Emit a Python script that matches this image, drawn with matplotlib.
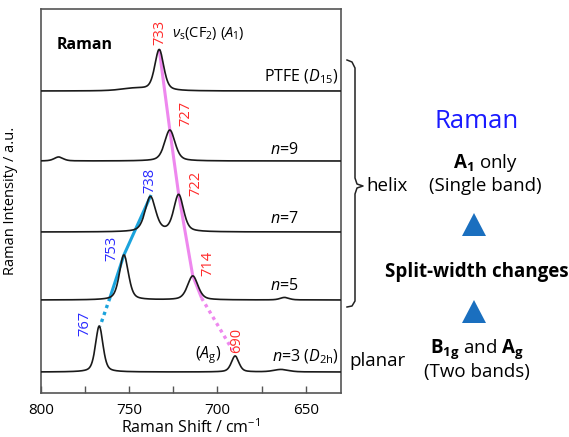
import numpy as np
import matplotlib
matplotlib.use("Agg")
import matplotlib.pyplot as plt
from matplotlib.patches import Polygon
from matplotlib.lines import Line2D

plt.rcParams['font.family'] = ['Open Sans', 'DejaVu Sans']
plt.rcParams['mathtext.fontset'] = 'custom'
plt.rcParams['mathtext.rm'] = 'Open Sans'
plt.rcParams['mathtext.it'] = 'Open Sans:italic'
plt.rcParams['mathtext.bf'] = 'Open Sans:bold'

# ---------------- data ----------------
spectra_names = ["PTFE", "n9", "n7", "n5", "n3"]
offsets = [302, 232, 161, 93, 21]
# peaks: (center cm-1, height, FWHM)
peaks_ptfe = [(733, 41, 6.0), (747, 2.5, 18)]
peaks_n9 = [(727, 31, 7.0), (790, 4, 6)]
peaks_n7 = [(738, 35, 7.0), (722, 37, 6.5)]
peaks_n5 = [(753, 45, 6.0), (714, 24, 7.0), (662, 2.5, 6)]
peaks_n3 = [(767, 46, 5.0), (690, 16, 5.0), (664, 2.5, 10)]
all_peaks = [peaks_ptfe, peaks_n9, peaks_n7, peaks_n5, peaks_n3]

red_pos = [733, 727, 722, 714, 690]
blue_pos = [738, 753, 767]

red_labels = ["733", "727", "722", "714", "690"]
blue_labels = ["738", "753", "767"]

xticks = [800, 750, 700, 650]
minor_xticks = [775, 725, 675]

# ---------------- figure ----------------
W, H = 569, 437
fig = plt.figure(figsize=(W / 100, H / 100), dpi=100)
ax = fig.add_axes([41 / W, 1 - 393 / H, 300 / W, 384 / H])
ax.set_xlim(800, 630)
ax.set_ylim(0, 384)

x = np.arange(630, 800.01, 0.25)


def pv(xx, c, h, w, eta=0.45):
    g = np.exp(-4 * np.log(2) * ((xx - c) / w) ** 2)
    l = 1 / (1 + 4 * ((xx - c) / w) ** 2)
    return h * (eta * l + (1 - eta) * g)


for off, pk in zip(offsets, all_peaks):
    y = np.full_like(x, float(off))
    for c, h, w in pk:
        y = y + pv(x, c, h, w)
    ax.plot(x, y, color="#1a1a1a", lw=1.2, zorder=3)


def apex(i, c):
    return offsets[i] + sum(pv(np.array([c]), cc, h, w)[0] for cc, h, w in all_peaks[i])


pink = "#ee88ee"
cyan = "#1ba3dc"
rp = [(733, apex(0, 733)), (727, apex(1, 727)), (722, apex(2, 722)), (714, apex(3, 714))]
ext = (709, offsets[3] + 2)
ax.plot([p[0] for p in rp] + [ext[0]], [p[1] for p in rp] + [ext[1]], color=pink, lw=2.2, zorder=2,
        solid_capstyle="butt")
ax.plot([ext[0], 691.5], [ext[1], apex(4, 690) + 6], color=pink, lw=2.4, ls=(0, (1, 1.2)), zorder=2)
bp = [(738, apex(2, 738)), (753, apex(3, 753))]
bext = (761, offsets[3] + 2)
ax.plot([bp[0][0], bp[1][0], bext[0]], [bp[0][1], bp[1][1], bext[1]], color=cyan, lw=2.2, zorder=2)
ax.plot([bext[0], 766.5], [bext[1], apex(4, 767)], color=cyan, lw=2.4, ls=(0, (1, 1.2)), zorder=2)

red = "#ff2a2a"
blue = "#2b2bff"
fs_num = 10.5
red_xy = [(732.5, 361), (718, 280), (712.3, 210), (705.5, 130), (689, 53)]
blue_xy = [(738.3, 213), (759.8, 145), (775, 70)]
for (xx, yy), t in zip(red_xy, red_labels):
    ax.text(xx, yy, t, rotation=90, color=red, fontsize=fs_num, ha="center", va="center")
for (xx, yy), t in zip(blue_xy, blue_labels):
    ax.text(xx, yy, t, rotation=90, color=blue, fontsize=fs_num, ha="center", va="center")

fs = 11.5
ax.text(791, 348, "Raman", fontsize=11.5, fontweight="bold", ha="left", va="center")
ax.text(726, 360, r"$\nu_\mathrm{s}$(CF$_2$) ($\mathit{A}_1$)", fontsize=10.5, ha="left", va="center")
ax.text(631.3, 316, r"PTFE ($\mathit{D}_{15}$)", fontsize=fs, ha="right", va="center")
ax.text(662, 243, r"$\mathit{n}$=9", fontsize=fs, ha="center", va="center")
ax.text(662, 174, r"$\mathit{n}$=7", fontsize=fs, ha="center", va="center")
ax.text(662, 107, r"$\mathit{n}$=5", fontsize=fs, ha="center", va="center")
ax.text(631.3, 36, r"$\mathit{n}$=3 ($\mathit{D}_\mathrm{2h}$)", fontsize=fs, ha="right", va="center")
ax.text(705.5, 38, r"($\mathit{A}_\mathrm{g}$)", fontsize=fs, ha="center", va="center")

ax.set_xticks(xticks)
ax.set_xticks(minor_xticks, minor=True)
ax.set_yticks([])
ax.tick_params(axis="x", which="both", direction="in", length=5, width=1, color="#555555",
               labelsize=11, pad=7)
for s in ax.spines.values():
    s.set_color("#555555")
    s.set_linewidth(1.2)
ax.set_xlabel("Raman Shift / cm$^{-1}$", fontsize=11.5)
ax.xaxis.set_label_coords(0.5, -0.065)
ax.set_ylabel("Raman Intensity / a.u.", fontsize=10.5)
ax.yaxis.set_label_coords(-0.077, 0.5)


def fx(px):
    return px / W


def fy(py):
    return 1 - py / H


# brace
bx = [347, 352, 355, 355, 357, 363, 357, 355, 355, 352, 347]
by = [60, 62, 68, 178, 184, 186, 188, 194, 301, 306, 307]
fig.add_artist(Line2D([fx(v) for v in bx], [fy(v) for v in by], color="#222222", lw=1.1))
fig.text(fx(366), fy(186), "helix", fontsize=13.5, ha="left", va="center")
fig.text(fx(349), fy(361), "planar", fontsize=13.5, ha="left", va="center")

# right panel
cx = 477
fig.text(fx(cx), fy(121), "Raman", fontsize=18.5, color="#1a1aff", ha="center", va="center")
fig.text(fx(cx + 8), fy(163), r"$\mathbf{A_1}$ only", fontsize=13.5, ha="center", va="center")
fig.text(fx(cx + 8), fy(186), "(Single band)", fontsize=13.5, ha="center", va="center")
fig.text(fx(cx), fy(272), "Split-width changes", fontsize=13.5, fontweight="bold", ha="center", va="center")
fig.text(fx(cx), fy(349), r"$\mathbf{B_{1g}}$ and $\mathbf{A_g}$", fontsize=13.5, ha="center", va="center")
fig.text(fx(cx), fy(372), "(Two bands)", fontsize=13.5, ha="center", va="center")
tri_col = "#1a6fbf"
for ty in (225, 312):
    tri = Polygon([(fx(cx - 3 - 12), fy(ty + 11)), (fx(cx - 3 + 12), fy(ty + 11)), (fx(cx - 3), fy(ty - 12))],
                  closed=True, facecolor=tri_col, edgecolor="none", transform=fig.transFigure)
    fig.add_artist(tri)

fig.savefig("out.png", dpi=100)
